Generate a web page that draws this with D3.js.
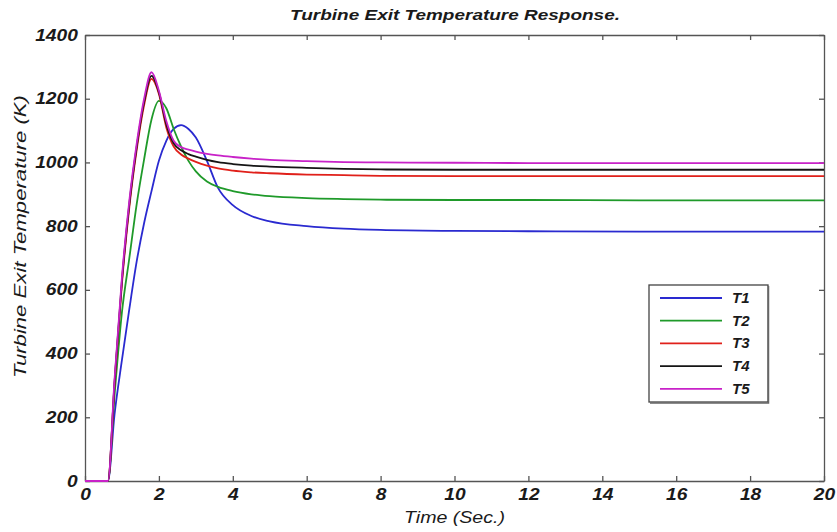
<!DOCTYPE html>
<html>
<head>
<meta charset="utf-8">
<script src="https://cdn.jsdelivr.net/npm/d3@7"></script>
<style>
  body { margin: 0; background: #fff; }
  svg { display: block; font-family: "Liberation Sans", Arial, sans-serif; }
  .tick text { font-size: 16px; font-weight: bold; font-style: italic; fill: #1a1a1a; }
</style>
</head>
<body>
<svg id="chart" width="837" height="532"></svg>
<script>
/* Turbine exit temperature response: five step responses */

const time = [0, 0.62, 0.8, 1.0, 1.2, 1.4, 1.6, 1.8, 2.0, 2.2, 2.4, 2.6, 2.8, 3.0, 3.3, 3.6, 4.0, 4.5, 5, 6, 7, 8, 10, 12, 15, 20];

const t1 = [0, 0, 210, 380, 540, 690, 810, 910, 1005, 1068, 1105, 1117, 1105, 1078, 1005, 920, 866, 832, 815, 800, 792, 788, 785, 784, 783, 783];
const t2 = [0, 0, 270, 530, 700, 870, 1010, 1135, 1193, 1170, 1105, 1050, 1005, 972, 940, 923, 910, 900, 894, 888, 885, 883, 882, 882, 881, 881];
const t3 = [0, 0, 305, 620, 860, 1040, 1180, 1262, 1215, 1110, 1050, 1025, 1012, 1002, 990, 981, 974, 969, 966, 962, 960, 958, 957, 957, 957, 957];
const t4 = [0, 0, 310, 630, 870, 1050, 1190, 1272, 1220, 1120, 1060, 1038, 1026, 1018, 1008, 1001, 995, 990, 987, 983, 980, 978, 977, 977, 977, 977];
const t5 = [0, 0, 320, 640, 880, 1060, 1200, 1283, 1225, 1130, 1068, 1048, 1040, 1034, 1027, 1022, 1017, 1012, 1008, 1004, 1001, 1000, 999, 998, 998, 998];

const seriesNames = ['T1', 'T2', 'T3', 'T4', 'T5'];
const seriesValues = [t1, t2, t3, t4, t5];
const seriesColors = ['#2a2ad0', '#1f9a2a', '#e0201a', '#151515', '#c822c8'];

const xTicks = [0, 2, 4, 6, 8, 10, 12, 14, 16, 18, 20];
const yTicks = [0, 200, 400, 600, 800, 1000, 1200, 1400];

const margin = { left: 85, top: 35, right: 13, bottom: 51 };
const W = 837, H = 532;

const svg = d3.select('#chart');

const x = d3.scaleLinear().domain([0, 20]).range([margin.left, W - margin.right]);
const y = d3.scaleLinear().domain([0, 1400]).range([H - margin.bottom, margin.top]);

// Axes (ticks inward, box on all sides like MATLAB)
const axisColor = '#555';
const fmt = d3.format('d');

svg.append('g')
  .attr('transform', `translate(0,${y(0)})`)
  .call(d3.axisBottom(x).tickValues(xTicks).tickFormat(fmt).tickSizeInner(-5).tickSizeOuter(0).tickPadding(8))
  .call(g => g.selectAll('line, path').attr('stroke', axisColor).attr('stroke-width', 1.3))
  .call(g => g.selectAll('text').attr('transform', 'scale(1.2,1)'));

svg.append('g')
  .attr('transform', `translate(${x(0)},0)`)
  .call(d3.axisLeft(y).tickValues(yTicks).tickFormat(fmt).tickSizeInner(-5).tickSizeOuter(0).tickPadding(6))
  .call(g => g.selectAll('line, path').attr('stroke', axisColor).attr('stroke-width', 1.3))
  .call(g => g.selectAll('text').attr('transform', 'scale(1.2,1)'));

svg.append('g')
  .attr('transform', `translate(0,${y(1400)})`)
  .call(d3.axisTop(x).tickValues(xTicks).tickSizeInner(-5).tickSizeOuter(0).tickFormat(''))
  .call(g => g.selectAll('line, path').attr('stroke', axisColor).attr('stroke-width', 1.3));

svg.append('g')
  .attr('transform', `translate(${x(20)},0)`)
  .call(d3.axisRight(y).tickValues(yTicks).tickSizeInner(-5).tickSizeOuter(0).tickFormat(''))
  .call(g => g.selectAll('line, path').attr('stroke', axisColor).attr('stroke-width', 1.3));

// Lines
const line = d3.line()
  .x((d, i) => x(time[i]))
  .y(d => y(d))
  .curve(d3.curveMonotoneX);

svg.append('g')
  .selectAll('path')
  .data(seriesValues)
  .join('path')
  .attr('fill', 'none')
  .attr('stroke', (d, i) => seriesColors[i])
  .attr('stroke-width', 1.8)
  .attr('d', line);

// Titles
svg.append('text')
  .attr('x', 290).attr('y', 20)
  .attr('textLength', 330).attr('lengthAdjust', 'spacingAndGlyphs')
  .attr('font-size', 15).attr('font-weight', 'bold').attr('font-style', 'italic')
  .attr('fill', '#1a1a1a')
  .text('Turbine Exit Temperature Response.');

svg.append('text')
  .attr('x', 404).attr('y', 523)
  .attr('textLength', 101).attr('lengthAdjust', 'spacingAndGlyphs')
  .attr('font-size', 16).attr('font-style', 'italic')
  .attr('fill', '#1a1a1a')
  .text('Time (Sec.)');

svg.append('text')
  .attr('transform', 'translate(26,378) rotate(-90)')
  .attr('textLength', 283).attr('lengthAdjust', 'spacingAndGlyphs')
  .attr('font-size', 17).attr('font-style', 'italic')
  .attr('fill', '#1a1a1a')
  .text('Turbine Exit Temperature (K)');

// Legend
const legend = svg.append('g').attr('transform', 'translate(649,285)');

legend.append('rect')
  .attr('width', 119).attr('height', 117)
  .attr('fill', '#fff')
  .attr('stroke', '#444').attr('stroke-width', 1.3);

legend.append('path')
  .attr('d', 'M119.5,1 V118 H1')
  .attr('fill', 'none').attr('stroke', '#666').attr('stroke-width', 1.5);

const item = legend.selectAll('g.item')
  .data(seriesNames)
  .join('g')
  .attr('class', 'item')
  .attr('transform', (d, i) => `translate(0,${13 + i * 22.7})`);

item.append('line')
  .attr('x1', 11).attr('x2', 73)
  .attr('stroke', (d, i) => seriesColors[i])
  .attr('stroke-width', 1.8);

item.append('text')
  .attr('x', 83).attr('y', 5)
  .attr('font-size', 15).attr('font-weight', 'bold').attr('font-style', 'italic')
  .attr('fill', '#1a1a1a')
  .text(d => d);
</script>
</body>
</html>
